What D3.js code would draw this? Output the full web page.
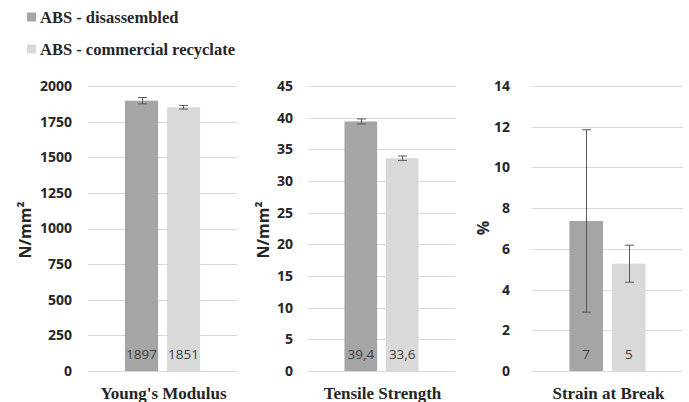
<!DOCTYPE html>
<html><head><meta charset="utf-8">
<script src="https://cdn.jsdelivr.net/npm/d3@7"></script>
<style>body{margin:0;background:#fff}svg{display:block}</style>
</head><body><svg id="c" width="689" height="402"></svg>
<script>
const properties = ["Young's Modulus", "Tensile Strength", "Strain at Break"];
const series = ["ABS - disassembled", "ABS - commercial recyclate"];
const disassembled = [1897, 39.4, 7.37];
const recyclate = [1851, 33.6, 5.27];
const disassembledErr = [22, 0.4, 4.48];
const recyclateErr = [13, 0.35, 0.91];
const disassembledLabels = ["1897", "39,4", "7"];
const recyclateLabels = ["1851", "33,6", "5"];
const yMax = [2000, 45, 14];
const yStep = [250, 5, 2];
const yTitles = ["N/mm²", "N/mm²", "%"];

const colors = ["#a5a5a5", "#d9d9d9"];
const svg = d3.select("#c");
const panelX = [[88, 237], [308, 455], [532, 683]];
const yTop = 86, yBot = 371;
const titleX = [25, 263, 483];
const labelRight = [72, 293, 510];

// legend
series.forEach((s, i) => {
  const y = 17 + i * 32;
  svg.append("rect").attr("x", 27).attr("y", y - 4.5).attr("width", 9).attr("height", 9).attr("fill", colors[i]);
  svg.append("text").attr("x", 40).attr("y", y).attr("dy", "0.35em")
    .attr("font-family", "Liberation Serif, Times New Roman, serif").attr("font-weight", "bold")
    .attr("font-size", 16.5).attr("fill", "#262626").text(s);
});

properties.forEach((p, k) => {
  const [x0, x1] = panelX[k];
  const y = d3.scaleLinear().domain([0, yMax[k]]).range([yBot, yTop]);
  const x = d3.scaleBand().domain(series).range([x0, x1]).paddingInner(0.21).paddingOuter(0.88);
  const ticks = d3.range(0, yMax[k] + yStep[k] / 2, yStep[k]);
  const g = svg.append("g");
  // grid
  g.selectAll(".grid").data(ticks).join("line")
    .attr("x1", x0).attr("x2", x1).attr("y1", d => Math.round(y(d)) + 0.5).attr("y2", d => Math.round(y(d)) + 0.5)
    .attr("stroke", "#d9d9d9").attr("stroke-width", 1);
  // y axis labels
  const ax = d3.axisLeft(y).tickValues(ticks).tickFormat(d3.format("d")).tickSize(0).tickPadding(0);
  const axg = g.append("g").attr("transform", `translate(${labelRight[k]},0)`).call(ax);
  axg.select(".domain").remove();
  axg.selectAll("text").attr("font-family", "Open Sans, sans-serif").attr("font-weight", "bold")
    .attr("font-size", 14).attr("fill", "#262626");
  // y title
  g.append("text").attr("transform", `translate(${titleX[k]},${k === 2 ? 228 : 230}) rotate(-90)`)
    .attr("text-anchor", "middle").attr("dy", "0.35em")
    .attr("font-family", "Open Sans, sans-serif").attr("font-weight", "bold")
    .attr("font-size", 16).attr("fill", "#262626").text(yTitles[k]);
  const vals = [disassembled[k], recyclate[k]];
  const errs = [disassembledErr[k], recyclateErr[k]];
  const labs = [disassembledLabels[k], recyclateLabels[k]];
  series.forEach((s, i) => {
    g.append("rect").attr("x", x(s)).attr("width", x.bandwidth())
      .attr("y", y(vals[i])).attr("height", y(0) - y(vals[i])).attr("fill", colors[i]);
  });
  series.forEach((s, i) => {
    const cx = Math.round(x(s) + x.bandwidth() / 2) + 0.5;
    const hi = y(vals[i] + errs[i]), lo = y(vals[i] - errs[i]);
    const eg = g.append("g").attr("stroke", "#595959").attr("stroke-width", 1);
    eg.append("line").attr("x1", cx).attr("x2", cx).attr("y1", hi).attr("y2", lo);
    eg.append("line").attr("x1", cx - 4.5).attr("x2", cx + 4.5).attr("y1", hi).attr("y2", hi);
    eg.append("line").attr("x1", cx - 4.5).attr("x2", cx + 4.5).attr("y1", lo).attr("y2", lo);
    g.append("text").attr("x", x(s) + x.bandwidth() / 2).attr("y", 354).attr("dy", "0.35em")
      .attr("text-anchor", "middle").attr("font-family", "Open Sans, sans-serif")
      .attr("font-size", 13.5).attr("fill", "#404040").text(labs[i]);
  });
  g.append("text").attr("x", (x0 + x1) / 2 + 1).attr("y", 393).attr("dy", "0.35em")
    .attr("text-anchor", "middle").attr("font-family", "Liberation Serif, Times New Roman, serif")
    .attr("font-weight", "bold").attr("font-size", 17).attr("fill", "#262626").text(p);
});
</script></body></html>
